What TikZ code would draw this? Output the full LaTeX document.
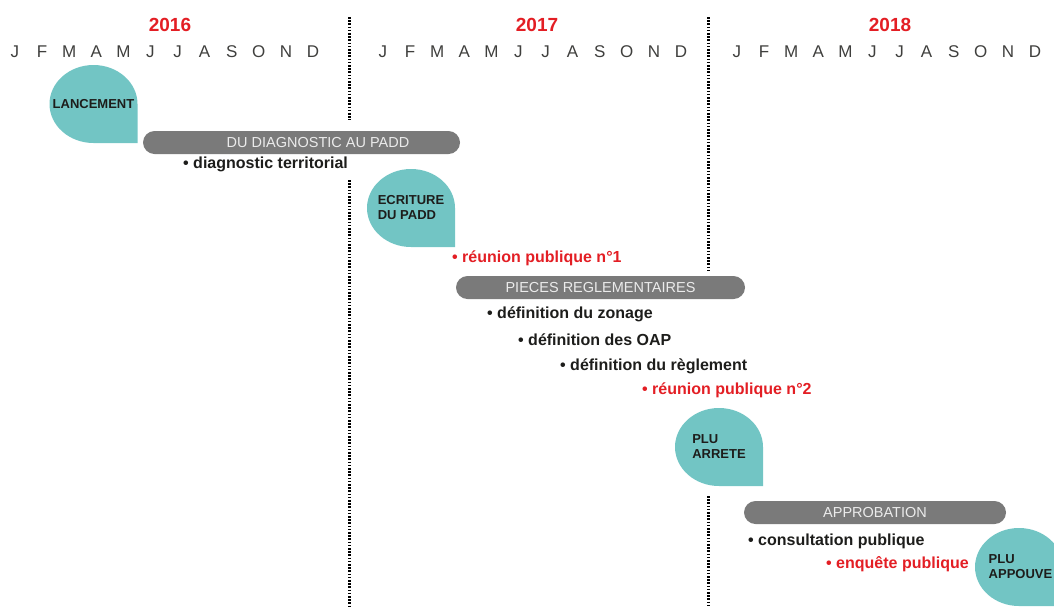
\documentclass[tikz,border=0pt]{standalone}
\usepackage{fontspec}
\setmainfont{Liberation Sans}
\definecolor{bubblecol}{RGB}{114,197,196}
\definecolor{barcol}{RGB}{122,122,122}
\definecolor{yearred}{RGB}{227,30,36}
\definecolor{inkcol}{RGB}{29,29,27}
\newcommand{\mo}[1]{\makebox[27.1pt]{#1}}
\begin{document}
\begin{tikzpicture}[x=1pt, y=-1pt,
  year/.style={font=\fontsize{19}{19}\selectfont\bfseries, text=yearred},
  months/.style={font=\fontsize{17}{17}\selectfont, text=inkcol!85, inner sep=0pt},
  sep line/.style={line width=3pt, dash pattern=on 1.6pt off 1.6pt},
  phase/.style={fill=barcol, rounded corners=11.5pt, minimum height=23pt, inner sep=0pt, text=white!92!black, font=\fontsize{14.5}{14.5}\selectfont},
  bubble/.style={minimum width=88pt, minimum height=78pt, inner sep=0pt, align=left, font=\fontsize{13}{15}\selectfont\bfseries, text=inkcol,
    path picture={\fill[bubblecol] (path picture bounding box.east) -- (path picture bounding box.south east) -- (path picture bounding box.south) arc[start angle=-90, end angle=-360, x radius=44pt, y radius=39pt] -- cycle;}},
  task/.style={anchor=west, inner sep=0pt, font=\fontsize{16}{16}\selectfont\bfseries, text=inkcol},
  meeting/.style={task, text=yearred}]
\useasboundingbox (0,0) rectangle (1054,606);
% years and months
\begin{scope}
\node[year] (y16) at (170,25) {2016};
\node[year] (y17) at (537,25) {2017};
\node[year] (y18) at (890,25) {2018};
\node[months] (m16) at (164,52) {\mo{J}\mo{F}\mo{M}\mo{A}\mo{M}\mo{J}\mo{J}\mo{A}\mo{S}\mo{O}\mo{N}\mo{D}};
\node[months] (m17) at (532,52) {\mo{J}\mo{F}\mo{M}\mo{A}\mo{M}\mo{J}\mo{J}\mo{A}\mo{S}\mo{O}\mo{N}\mo{D}};
\node[months] (m18) at (886,52) {\mo{J}\mo{F}\mo{M}\mo{A}\mo{M}\mo{J}\mo{J}\mo{A}\mo{S}\mo{O}\mo{N}\mo{D}};
\end{scope}
% year separators
\coordinate (s1a) at (349,17);
\coordinate (s1b) at (349,120);
\coordinate (s1c) at (349,180);
\coordinate (s1d) at (349,606);
\coordinate (s2a) at (708,17);
\coordinate (s2b) at (708,270);
\coordinate (s2c) at (708,496);
\coordinate (s2d) at (708,606);
\draw[sep line] (s1a) -- (s1b);
\draw[sep line] (s1c) -- (s1d);
\draw[sep line] (s2a) -- (s2b);
\draw[sep line] (s2c) -- (s2d);
% milestones
\node[bubble, align=center] (lance) at (93.5,104) {LANCEMENT};
\node[bubble] (padd) at (411,208) {ECRITURE\\DU PADD};
\node[bubble] (arret) at (719,447) {PLU\\ARRETE};
\node[bubble] (appro) at (1019,567) {\hspace*{3pt}PLU\\\hspace*{3pt}APPOUVE};
% phases
\node[phase, minimum width=317pt] (ph1) at (301.5,142.5) {\hspace{33pt}DU DIAGNOSTIC AU PADD};
\node[phase, minimum width=289pt] (ph2) at (600.5,287.5) {PIECES REGLEMENTAIRES};
\node[phase, minimum width=262pt] (ph3) at (875,512.5) {APPROBATION};
% tasks
\node[task] (t1) at (183,164) {• diagnostic territorial};
\node[meeting] (r1) at (452,258) {• réunion publique n°1};
\node[task] (t2) at (487,314) {• définition du zonage};
\node[task] (t3) at (518,340) {• définition des OAP};
\node[task] (t4) at (560,366) {• définition du règlement};
\node[meeting] (r2) at (642,390) {• réunion publique n°2};
\node[task] (t5) at (748,541) {• consultation publique};
\node[meeting] (r3) at (826,564) {• enquête publique};
\end{tikzpicture}
\end{document}
